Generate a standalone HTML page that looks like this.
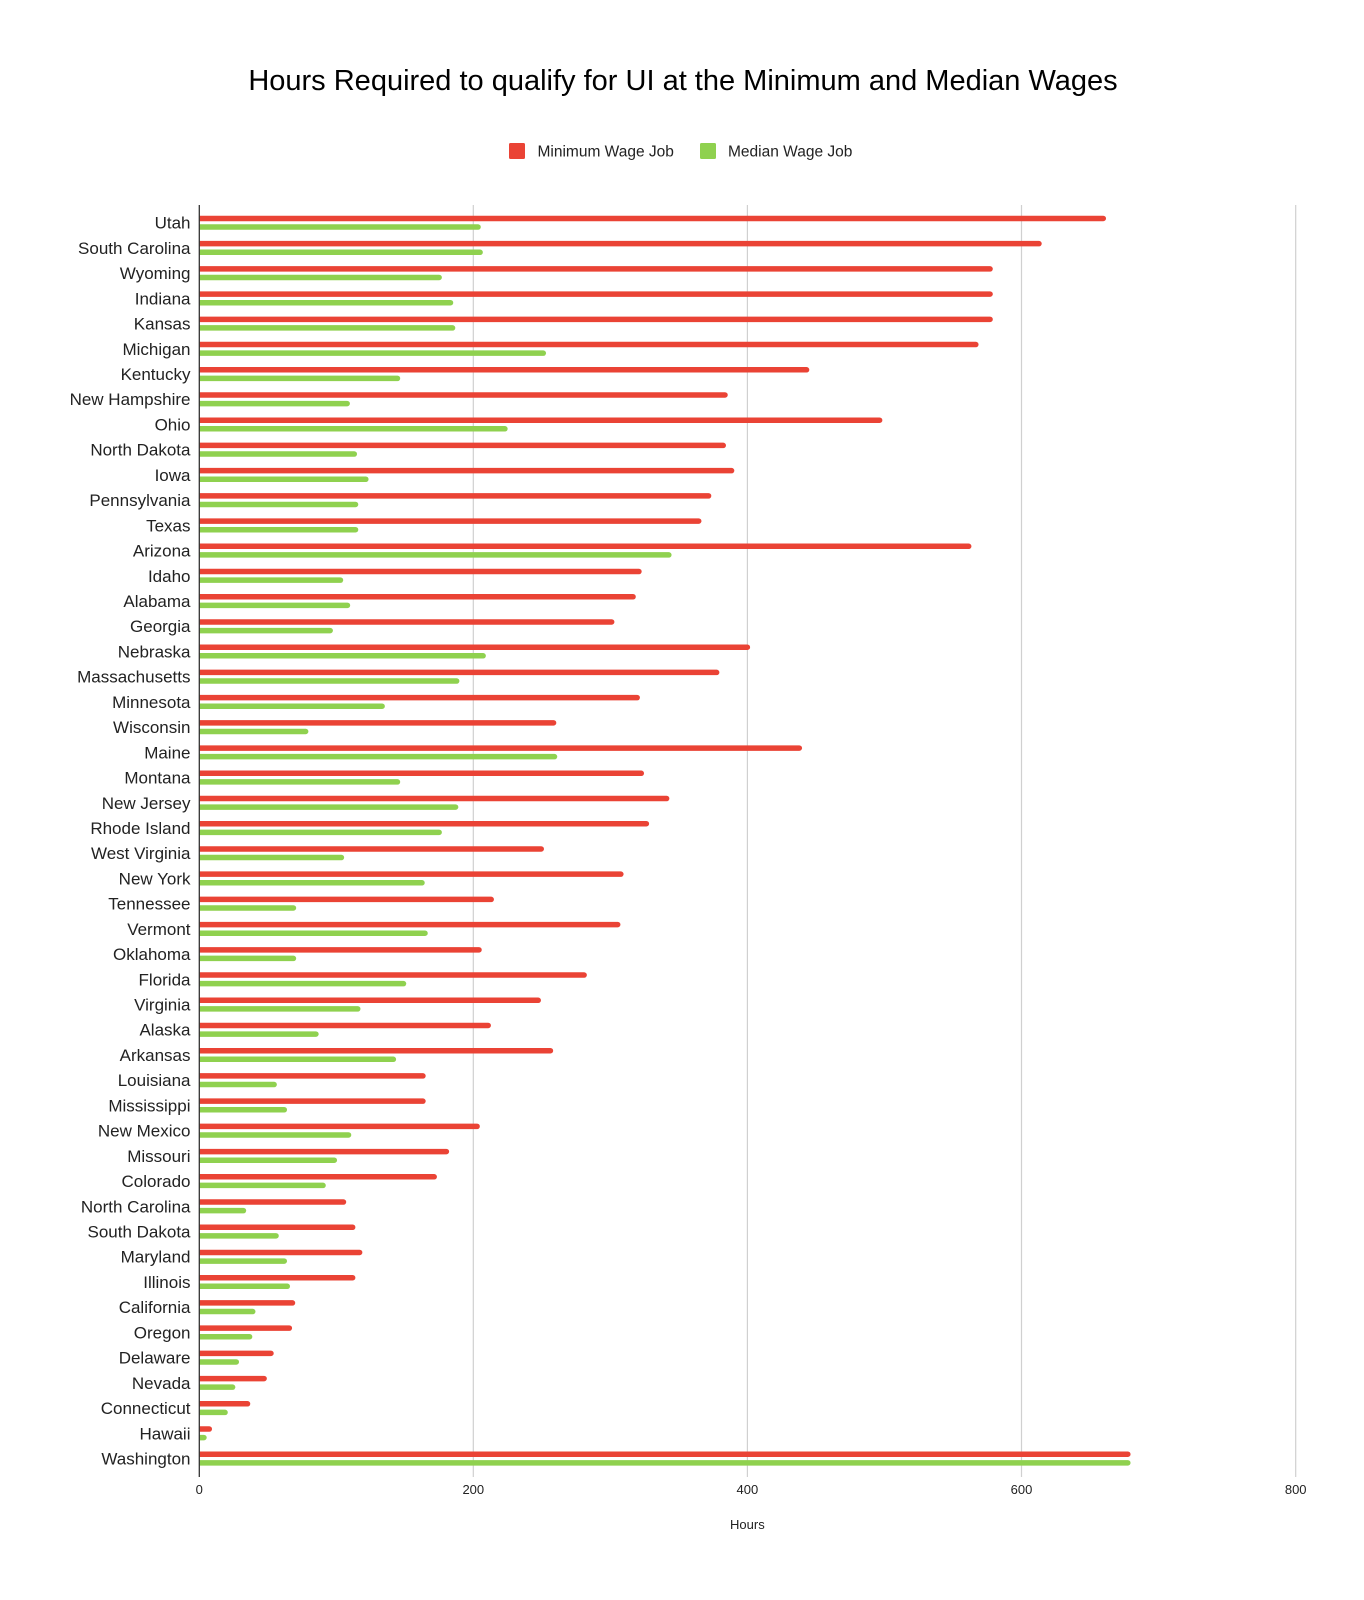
<!DOCTYPE html>
<html>
<head>
<meta charset="utf-8">
<style>
  html, body { margin: 0; padding: 0; background: #fff; }
  svg { display: block; font-family: "Liberation Sans", Arial, sans-serif; }
</style>
</head>
<body>
<svg width="1364" height="1600" viewBox="0 0 1364 1600" xmlns="http://www.w3.org/2000/svg">
  <rect x="0" y="0" width="1364" height="1600" fill="#ffffff"/>
  <text x="683" y="90" text-anchor="middle" font-size="29" fill="#000">Hours Required to qualify for UI at the Minimum and Median Wages</text>

  <!-- legend -->
  <rect x="509" y="143" width="16" height="16" rx="1.5" fill="#ea4335"/>
  <text x="537.5" y="156.5" font-size="15.5" fill="#222">Minimum Wage Job</text>
  <rect x="700" y="143" width="16" height="16" rx="1.5" fill="#8fd14f"/>
  <text x="728" y="156.5" font-size="15.5" fill="#222">Median Wage Job</text>

  <!-- gridlines -->
  <g stroke="#d0d0d0" stroke-width="1.2">
    <line x1="473.3" y1="205" x2="473.3" y2="1477"/>
    <line x1="747.4" y1="205" x2="747.4" y2="1477"/>
    <line x1="1021.5" y1="205" x2="1021.5" y2="1477"/>
    <line x1="1295.7" y1="205" x2="1295.7" y2="1477"/>
  </g>

  <g id="bars"></g>

  <line x1="199.3" y1="205" x2="199.3" y2="1477" stroke="#333" stroke-width="1.3"/>

  <!-- x tick labels -->
  <g font-size="13" fill="#222" text-anchor="middle">
    <text x="199.3" y="1494">0</text>
    <text x="473.3" y="1494">200</text>
    <text x="747.4" y="1494">400</text>
    <text x="1021.5" y="1494">600</text>
    <text x="1295.7" y="1494">800</text>
  </g>
  <text x="747.4" y="1529" font-size="13" fill="#222" text-anchor="middle">Hours</text>

  <g id="static">
  <text x="190.5" y="228.7" font-size="17" fill="#222" text-anchor="end">Utah</text>
  <text x="190.5" y="253.9" font-size="17" fill="#222" text-anchor="end">South Carolina</text>
  <text x="190.5" y="279.1" font-size="17" fill="#222" text-anchor="end">Wyoming</text>
  <text x="190.5" y="304.4" font-size="17" fill="#222" text-anchor="end">Indiana</text>
  <text x="190.5" y="329.6" font-size="17" fill="#222" text-anchor="end">Kansas</text>
  <text x="190.5" y="354.8" font-size="17" fill="#222" text-anchor="end">Michigan</text>
  <text x="190.5" y="380.0" font-size="17" fill="#222" text-anchor="end">Kentucky</text>
  <text x="190.5" y="405.2" font-size="17" fill="#222" text-anchor="end">New Hampshire</text>
  <text x="190.5" y="430.5" font-size="17" fill="#222" text-anchor="end">Ohio</text>
  <text x="190.5" y="455.7" font-size="17" fill="#222" text-anchor="end">North Dakota</text>
  <text x="190.5" y="480.9" font-size="17" fill="#222" text-anchor="end">Iowa</text>
  <text x="190.5" y="506.1" font-size="17" fill="#222" text-anchor="end">Pennsylvania</text>
  <text x="190.5" y="531.3" font-size="17" fill="#222" text-anchor="end">Texas</text>
  <text x="190.5" y="556.6" font-size="17" fill="#222" text-anchor="end">Arizona</text>
  <text x="190.5" y="581.8" font-size="17" fill="#222" text-anchor="end">Idaho</text>
  <text x="190.5" y="607.0" font-size="17" fill="#222" text-anchor="end">Alabama</text>
  <text x="190.5" y="632.2" font-size="17" fill="#222" text-anchor="end">Georgia</text>
  <text x="190.5" y="657.4" font-size="17" fill="#222" text-anchor="end">Nebraska</text>
  <text x="190.5" y="682.7" font-size="17" fill="#222" text-anchor="end">Massachusetts</text>
  <text x="190.5" y="707.9" font-size="17" fill="#222" text-anchor="end">Minnesota</text>
  <text x="190.5" y="733.1" font-size="17" fill="#222" text-anchor="end">Wisconsin</text>
  <text x="190.5" y="758.3" font-size="17" fill="#222" text-anchor="end">Maine</text>
  <text x="190.5" y="783.5" font-size="17" fill="#222" text-anchor="end">Montana</text>
  <text x="190.5" y="808.8" font-size="17" fill="#222" text-anchor="end">New Jersey</text>
  <text x="190.5" y="834.0" font-size="17" fill="#222" text-anchor="end">Rhode Island</text>
  <text x="190.5" y="859.2" font-size="17" fill="#222" text-anchor="end">West Virginia</text>
  <text x="190.5" y="884.4" font-size="17" fill="#222" text-anchor="end">New York</text>
  <text x="190.5" y="909.6" font-size="17" fill="#222" text-anchor="end">Tennessee</text>
  <text x="190.5" y="934.9" font-size="17" fill="#222" text-anchor="end">Vermont</text>
  <text x="190.5" y="960.1" font-size="17" fill="#222" text-anchor="end">Oklahoma</text>
  <text x="190.5" y="985.3" font-size="17" fill="#222" text-anchor="end">Florida</text>
  <text x="190.5" y="1010.5" font-size="17" fill="#222" text-anchor="end">Virginia</text>
  <text x="190.5" y="1035.7" font-size="17" fill="#222" text-anchor="end">Alaska</text>
  <text x="190.5" y="1061.0" font-size="17" fill="#222" text-anchor="end">Arkansas</text>
  <text x="190.5" y="1086.2" font-size="17" fill="#222" text-anchor="end">Louisiana</text>
  <text x="190.5" y="1111.4" font-size="17" fill="#222" text-anchor="end">Mississippi</text>
  <text x="190.5" y="1136.6" font-size="17" fill="#222" text-anchor="end">New Mexico</text>
  <text x="190.5" y="1161.8" font-size="17" fill="#222" text-anchor="end">Missouri</text>
  <text x="190.5" y="1187.1" font-size="17" fill="#222" text-anchor="end">Colorado</text>
  <text x="190.5" y="1212.3" font-size="17" fill="#222" text-anchor="end">North Carolina</text>
  <text x="190.5" y="1237.5" font-size="17" fill="#222" text-anchor="end">South Dakota</text>
  <text x="190.5" y="1262.7" font-size="17" fill="#222" text-anchor="end">Maryland</text>
  <text x="190.5" y="1287.9" font-size="17" fill="#222" text-anchor="end">Illinois</text>
  <text x="190.5" y="1313.2" font-size="17" fill="#222" text-anchor="end">California</text>
  <text x="190.5" y="1338.4" font-size="17" fill="#222" text-anchor="end">Oregon</text>
  <text x="190.5" y="1363.6" font-size="17" fill="#222" text-anchor="end">Delaware</text>
  <text x="190.5" y="1388.8" font-size="17" fill="#222" text-anchor="end">Nevada</text>
  <text x="190.5" y="1414.0" font-size="17" fill="#222" text-anchor="end">Connecticut</text>
  <text x="190.5" y="1439.3" font-size="17" fill="#222" text-anchor="end">Hawaii</text>
  <text x="190.5" y="1464.5" font-size="17" fill="#222" text-anchor="end">Washington</text>
  </g>
</svg>
<script>
(function(){
  var data = [
    [661.6,205.4],[614.7,206.9],[579,177],[579,185.3],[579,186.8],[568.6,253],
    [445.1,146.6],[385.6,109.9],[498.4,225],[384.3,115.1],[390.4,123.5],[373.6,116],
    [366.4,116],[563.4,344.6],[322.8,105],[318.5,110.1],[302.9,97.5],[401.9,209.1],
    [379.5,189.8],[321.5,135.4],[260.5,79.6],[439.8,261.2],[324.5,146.6],[343,189],
    [328.2,177],[251.5,105.7],[309.6,164.5],[215,70.7],[307.3,166.7],[206.1,70.7],
    [282.8,151],[249.3,117.6],[212.8,87.1],[258.2,143.6],[165.2,56.6],[165.2,64],
    [204.7,110.9],[182.3,100.5],[173.4,92.3],[107.2,34.2],[113.9,58],[119,64],
    [113.9,66.2],[70,41],[67.7,38.7],[54.3,29],[49.3,26.3],[37.2,20.8],[9.3,5.4],
    [679.5,679.5]
  ];
  var NS="http://www.w3.org/2000/svg";
  var g=document.getElementById("bars");
  var x0=199.3, k=1.3705, h=5.5, r=2.75;
  function bar(y,v,color){
    var x1=x0+v*k;
    var p=document.createElementNS(NS,"path");
    var xr=Math.max(x0,x1-r);
    p.setAttribute("d","M"+x0+","+y+" H"+xr+" A"+r+","+r+" 0 0 1 "+xr+","+(y+h)+" H"+x0+" Z");
    p.setAttribute("fill",color);
    g.appendChild(p);
  }
  for(var i=0;i<data.length;i++){
    var c=222.7+i*25.22;
    bar(c-7.0,data[i][0],"#ea4335");
    bar(c+1.6,data[i][1],"#8fd14f");
  }
})();
</script>
</body>
</html>
